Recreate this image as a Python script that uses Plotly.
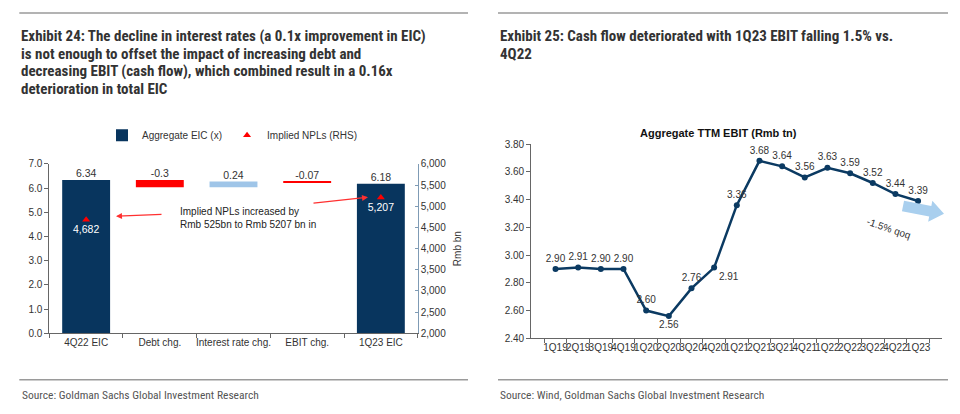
import math
import plotly.graph_objects as go

W, H = 960, 414

# ---------------- data ----------------
eic_cats = ["4Q22 EIC", "Debt chg.", "Interest rate chg.", "EBIT chg.", "1Q23 EIC"]
eic_values = [6.34, -0.3, 0.24, -0.07, 6.18]
eic_kind = ["total", "change", "change", "change", "total"]

npl_cats = ["4Q22 EIC", "1Q23 EIC"]
npl_values = [4682, 5207]

ebit_quarters = ["1Q19", "2Q19", "3Q19", "4Q19", "1Q20", "2Q20", "3Q20", "4Q20",
                 "1Q21", "2Q21", "3Q21", "4Q21", "1Q22", "2Q22", "3Q22", "4Q22", "1Q23"]
ebit_values = [2.90, 2.91, 2.90, 2.90, 2.60, 2.56, 2.76, 2.91,
               3.36, 3.68, 3.64, 3.56, 3.63, 3.59, 3.52, 3.44, 3.39]

# ---------------- helpers ----------------
def px(x):
    return x / W

def py(y):
    return 1 - y / H

NAVY = "#08355e"
RED = "#ff0000"
LBLUE = "#9fc5e8"
TXT = "#333333"
NARROW = "Liberation Sans Narrow, Arial Narrow, Roboto Condensed, Liberation Sans, Arial"
SANS = "Liberation Sans, Arial, sans-serif"

fig = go.Figure()

bases, heights, colors, tops = [], [], [], []
running = 0.0
for v, k in zip(eic_values, eic_kind):
    if k == "total":
        bases.append(0.0); heights.append(v); colors.append(NAVY)
        running = v; tops.append(v)
    else:
        bases.append(running); heights.append(v)
        colors.append(RED if v < 0 else LBLUE)
        tops.append(max(running, running + v))
        running = running + v

tot = [i for i, k in enumerate(eic_kind) if k == "total"]
chg = [i for i, k in enumerate(eic_kind) if k == "change"]

fig.add_trace(go.Bar(
    x=[eic_cats[i] for i in tot], y=[heights[i] for i in tot], base=[bases[i] for i in tot],
    marker=dict(color=NAVY, line=dict(width=0)),
    width=0.65, name="Aggregate EIC (x)", xaxis="x", yaxis="y", showlegend=True,
))
fig.add_trace(go.Bar(
    x=[eic_cats[i] for i in chg], y=[heights[i] for i in chg], base=[bases[i] for i in chg],
    marker=dict(color=[colors[i] for i in chg], line=dict(width=0)),
    width=0.65, name="chg", xaxis="x", yaxis="y", showlegend=False,
))
fig.add_trace(go.Scatter(
    x=eic_cats, y=tops, mode="text", text=[str(v) for v in eic_values],
    textposition="top center", textfont=dict(size=10.5, color=TXT, family=SANS),
    xaxis="x", yaxis="y", showlegend=False, hoverinfo="skip",
))
fig.add_trace(go.Scatter(
    x=npl_cats, y=npl_values, mode="markers+text",
    marker=dict(symbol="triangle-up", color=RED, size=7),
    text=[f"{v:,}" for v in npl_values], textposition="bottom center",
    textfont=dict(size=10.5, color="white", family=SANS),
    name="Implied NPLs (RHS)", xaxis="x", yaxis="y2",
))

pos = ["top center"] * len(ebit_values)
pos[5] = "bottom center"
pos[7] = "bottom right"
fig.add_trace(go.Scatter(
    x=ebit_quarters, y=ebit_values, mode="lines+markers+text",
    line=dict(color="#0b3a62", width=2.5), marker=dict(color="#0b3a62", size=6),
    text=[f"{v:.2f}" for v in ebit_values], textposition=pos,
    textfont=dict(size=10, color=TXT, family=SANS),
    xaxis="x3", yaxis="y3", showlegend=False,
))

axfont = dict(size=10, color=TXT, family=SANS)
fig.update_layout(
    width=W, height=H, autosize=False,
    margin=dict(l=0, r=0, t=0, b=0),
    paper_bgcolor="white", plot_bgcolor="white",
    barmode="overlay",
    xaxis=dict(domain=[px(49.3), px(417.7)], type="category", categoryorder="array",
               categoryarray=eic_cats, tickson="boundaries", ticks="outside", ticklen=4,
               showline=True, linecolor="#666", linewidth=1, tickcolor="#666",
               tickfont=axfont, showgrid=False, anchor="y", tickangle=0),
    yaxis=dict(domain=[py(337), py(162.7)], range=[0, 7], dtick=1, tickformat=".1f",
               showline=True, linecolor="#666", linewidth=1, ticks="outside", ticklen=4,
               tickcolor="#666", tickfont=axfont, showgrid=False, zeroline=False, anchor="x"),
    yaxis2=dict(domain=[py(337), py(162.7)], range=[2000, 6000], dtick=500, tickformat=",",
                overlaying="y", side="right", anchor="x",
                showline=True, linecolor="#7f9bb5", linewidth=1, ticks="inside", ticklen=3,
                tickcolor="#7f9bb5", tickfont=axfont, showgrid=False, zeroline=False,
                title=dict(text="Rmb bn", font=axfont, standoff=8)),
    xaxis3=dict(domain=[px(531.2), px(942.4)], type="category", categoryorder="array",
                categoryarray=ebit_quarters, tickmode="array", tickvals=ebit_quarters,
                tickson="boundaries", ticks="outside", ticklen=4, tickangle=0,
                showline=True, linecolor="#666", linewidth=1, tickcolor="#666",
                tickfont=axfont, showgrid=False, anchor="y3"),
    yaxis3=dict(domain=[py(342.2), py(142.3)], range=[2.4, 3.8], dtick=0.2, tickformat=".2f",
                showline=True, linecolor="#666", linewidth=1, ticks="outside", ticklen=4,
                tickcolor="#666", tickfont=axfont, showgrid=False, zeroline=False, anchor="x3"),
    legend=dict(orientation="h", x=px(102), y=py(133), xanchor="left", yanchor="middle",
                font=dict(size=10, color=TXT, family=SANS), itemwidth=30,
                bgcolor="rgba(0,0,0,0)", traceorder="normal"),
)

shapes = []
for x0, x1 in [(19.3, 468), (498, 948)]:
    shapes.append(dict(type="line", xref="paper", yref="paper", x0=px(x0), x1=px(x1),
                       y0=py(7.3), y1=py(7.3), line=dict(color="#9a9a9a", width=1.5)))
    shapes.append(dict(type="line", xref="paper", yref="paper", x0=px(x0), x1=px(x1),
                       y0=py(385), y1=py(385), line=dict(color="#9a9a9a", width=1.5)))

A = (903.0, 206.0); T = (944.0, 214.0)
L = math.hypot(T[0] - A[0], T[1] - A[1])
d = ((T[0] - A[0]) / L, (T[1] - A[1]) / L)
n = (-d[1], d[0])
B = (T[0] - 14 * d[0], T[1] - 14 * d[1])
def off(P, k):
    return (P[0] + k * n[0], P[1] + k * n[1])
poly = [off(A, -5.5), off(B, -5.5), off(B, -11), T, off(B, 11), off(B, 5.5), off(A, 5.5)]
path = "M " + " L ".join(f"{px(p[0]):.5f},{py(p[1]):.5f}" for p in poly) + " Z"
shapes.append(dict(type="path", xref="paper", yref="paper", path=path,
                   fillcolor="#a9cfee", line=dict(width=0)))
fig.update_layout(shapes=shapes)

ann = []
left_title = ["Exhibit 24: The decline in interest rates (a 0.1x improvement in EIC)",
              "is not enough to offset the impact of increasing debt and",
              "decreasing EBIT (cash flow), which combined result in a 0.16x",
              "deterioration in total EIC"]
for i, t in enumerate(left_title):
    ann.append(dict(xref="paper", yref="paper", x=px(20), y=py(31.2 + 18.0 * i),
                    xanchor="left", yanchor="middle", showarrow=False, text=f"<b>{t}</b>",
                    borderpad=0, font=dict(size=15, color="#333", family=NARROW)))
right_title = ["Exhibit 25: Cash flow deteriorated with 1Q23 EBIT falling 1.5% vs.", "4Q22"]
for i, t in enumerate(right_title):
    ann.append(dict(xref="paper", yref="paper", x=px(498.5), y=py(31.0 + 18.0 * i),
                    xanchor="left", yanchor="middle", showarrow=False, text=f"<b>{t}</b>",
                    borderpad=0, font=dict(size=15, color="#333", family=NARROW)))
for x0, t in [(20, "Source: Goldman Sachs Global Investment Research"),
              (498, "Source: Wind, Goldman Sachs Global Investment Research")]:
    ann.append(dict(xref="paper", yref="paper", x=px(x0), y=py(401), xanchor="left",
                    yanchor="middle", showarrow=False, text=t,
                    font=dict(size=11.5, color="#555", family=NARROW)))
ann.append(dict(xref="paper", yref="paper", x=px(718.7), y=py(130.7), xanchor="center",
                yanchor="middle", showarrow=False, text="<b>Aggregate TTM EBIT (Rmb tn)</b>",
                font=dict(size=11, color="#111", family=SANS)))
ann.append(dict(xref="paper", yref="paper", x=px(178), y=py(218), xanchor="left",
                yanchor="middle", align="left", showarrow=False,
                text="Implied NPLs increased by<br>Rmb 525bn to Rmb 5207 bn in",
                font=dict(size=10, color="#222", family=SANS)))
ann.append(dict(xref="paper", yref="paper", x=px(116), y=py(216.5), text="", showarrow=True,
                ax=47, ay=-2, arrowhead=2, arrowsize=1, arrowwidth=1.2, arrowcolor="#ff3030"))
ann.append(dict(xref="paper", yref="paper", x=px(368), y=py(197), text="", showarrow=True,
                ax=-56, ay=6, arrowhead=2, arrowsize=1, arrowwidth=1.2, arrowcolor="#ff3030"))
ann.append(dict(xref="paper", yref="paper", x=px(915), y=py(229), text="-1.5% qoq",
                showarrow=False, textangle=19, font=dict(size=10, color="#333", family=SANS)))
fig.update_layout(annotations=ann)

fig.write_html("out.html", config={"displayModeBar": False},
               post_script="document.body.style.margin='0px';"
                           "document.body.style.overflow='hidden';")
